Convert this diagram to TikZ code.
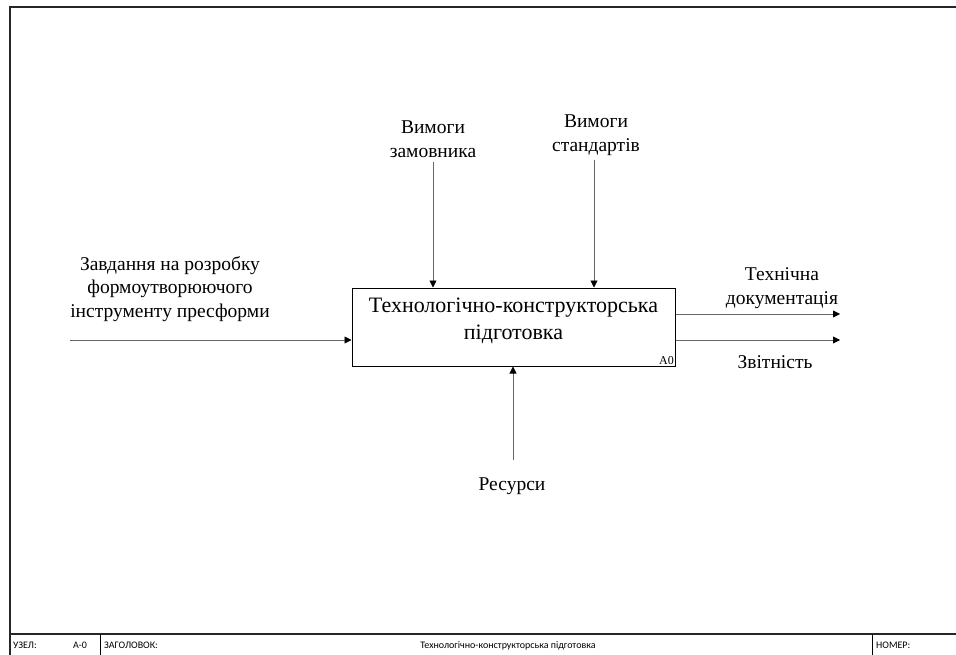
\documentclass[tikz,border=0pt]{standalone}
\usepackage{fontspec}
\setmainfont{Liberation Serif}
\newfontfamily\tnr{Liberation Serif}
\newfontfamily\barfont{Carlito}
\usetikzlibrary{arrows.meta}
\begin{document}
\begin{tikzpicture}[x=1pt,y=-1pt,
  frameline/.style={line width=1.2pt,draw=black!85},
  conn/.style={line width=0.8pt,draw=black!60,-{Triangle[length=7pt,width=7pt,color=black]}},
  lbl/.style={font=\tnr\fontsize{19.5}{23.5}\selectfont,align=center,inner sep=0pt},
  barlbl/.style={font=\barfont\fontsize{10}{11}\selectfont,anchor=west,inner sep=0pt},
  fbox/.style={draw=black,line width=1pt,minimum width=323pt,minimum height=78pt},
  ftext/.style={align=center,inner sep=0pt,font=\tnr\fontsize{22}{27}\selectfont}]
\useasboundingbox (0,0) rectangle (956,655);
\fill[white] (0,0) rectangle (956,655);
% frame
\draw[frameline] (10,655) -- (10,7) -- (956,7);
\draw[frameline] (10,634) -- (956,634);
\draw[line width=0.8pt] (100,634) -- (100,655);
\draw[line width=0.8pt] (872,634) -- (872,655);
\node[barlbl] (uzel) at (13,645.5) {УЗЕЛ:};
\node[barlbl] (node) at (73,645.5) {A-0};
\node[barlbl] (zag) at (104,645.5) {ЗАГОЛОВОК:};
\node[font=\barfont\fontsize{10}{11}\selectfont,inner sep=0pt] (title) at (508,645.5) {Технологічно-конструкторська підготовка};
\node[barlbl] (nomer) at (876,645.5) {НОМЕР:};
% main box
\node[fbox] (box) at (513.5,327) {};
\node[ftext] (boxtext) at (513.5,321) {Технологічно-конструкторська\\підготовка};
\node[font=\tnr\fontsize{12}{13}\selectfont,anchor=south east,inner sep=1.5pt] (a0) at (box.south east) {A0};
% input
\coordinate (inS) at (70,340);
\node[lbl] (inL) at (170,289) {Завдання на розробку\\формоутворюючого\\інструменту пресформи};
\draw[conn] (inS) -- (inS -| box.west);
% controls
\node[lbl] (c1) at (433,139) {Вимоги\\замовника};
\node[lbl] (c2) at (596,135) {Вимоги\\стандартів};
\coordinate (c1s) at (433,162);
\coordinate (c2s) at (594,160);
\draw[conn] (c1s) -- (c1s |- box.north);
\draw[conn] (c2s) -- (c2s |- box.north);
% outputs
\coordinate (o1) at (840,314);
\coordinate (o2) at (840,340);
\draw[conn] (o1 -| box.east) -- (o1);
\draw[conn] (o2 -| box.east) -- (o2);
\node[lbl] (o1L) at (782,288) {Технічна\\документація};
\node[lbl] (o2L) at (775,362) {Звітність};
% mechanism
\coordinate (m) at (513,460);
\draw[conn] (m) -- (m |- box.south);
\node[lbl] (mL) at (512,486) {Ресурси};
\end{tikzpicture}
\end{document}
